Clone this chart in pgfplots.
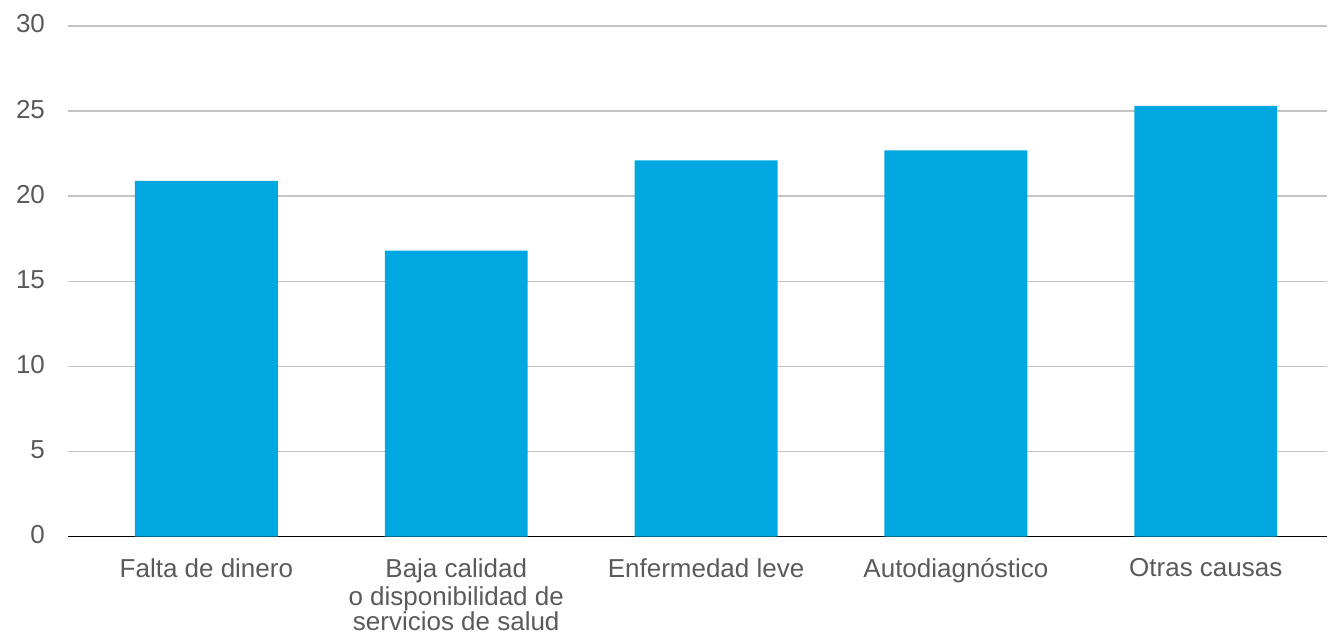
\documentclass[border=0pt]{standalone}
\usepackage{fontspec}
\setmainfont{Liberation Sans}
\usepackage{pgfplots}
\pgfplotsset{compat=1.18}
\definecolor{barblue}{HTML}{00A7E1}
\definecolor{gridgray}{HTML}{C4C4C4}
\definecolor{labelgray}{HTML}{5A5A5A}
\begin{document}
\begin{tikzpicture}
\begin{axis}[
  at={(0,0)}, anchor=south west,
  scale only axis,
  width=630pt, height=255.5pt,
  ymin=0, ymax=30,
  xmin=-0.554, xmax=4.486,
  ytick={0,5,...,30},
  xtick=data,
  xticklabels={{Falta de dinero\strut},
    {Baja calidad\strut\\o disponibilidad de\\servicios de salud},
    {Enfermedad leve\strut}, {Autodiagnóstico\strut}, {Otras causas\strut}},
  axis x line*=bottom,
  axis y line*=left,
  x axis line style={black, line width=0.8pt, -},
  y axis line style={draw=none},
  ymajorgrids,
  grid style={gridgray, line width=0.75pt},
  tick style={draw=none},
  /pgf/number format/assume math mode=true,
  tick label style={font=\fontsize{13}{12.5}\selectfont, text=labelgray},
  yticklabel style={anchor=east, xshift=-8pt, yshift=1pt},
  xticklabel style={align=center, yshift=-3pt},
  ybar, bar width=71.5pt,
  clip=false,
]
\addplot[fill=barblue, draw=none] coordinates {
  (0,20.9) (1,16.8) (2,22.1) (3,22.7) (4,25.3)
};
\end{axis}
\path[use as bounding box] (-34pt,-50pt) rectangle (630pt,268.5pt);
\end{tikzpicture}
\end{document}
